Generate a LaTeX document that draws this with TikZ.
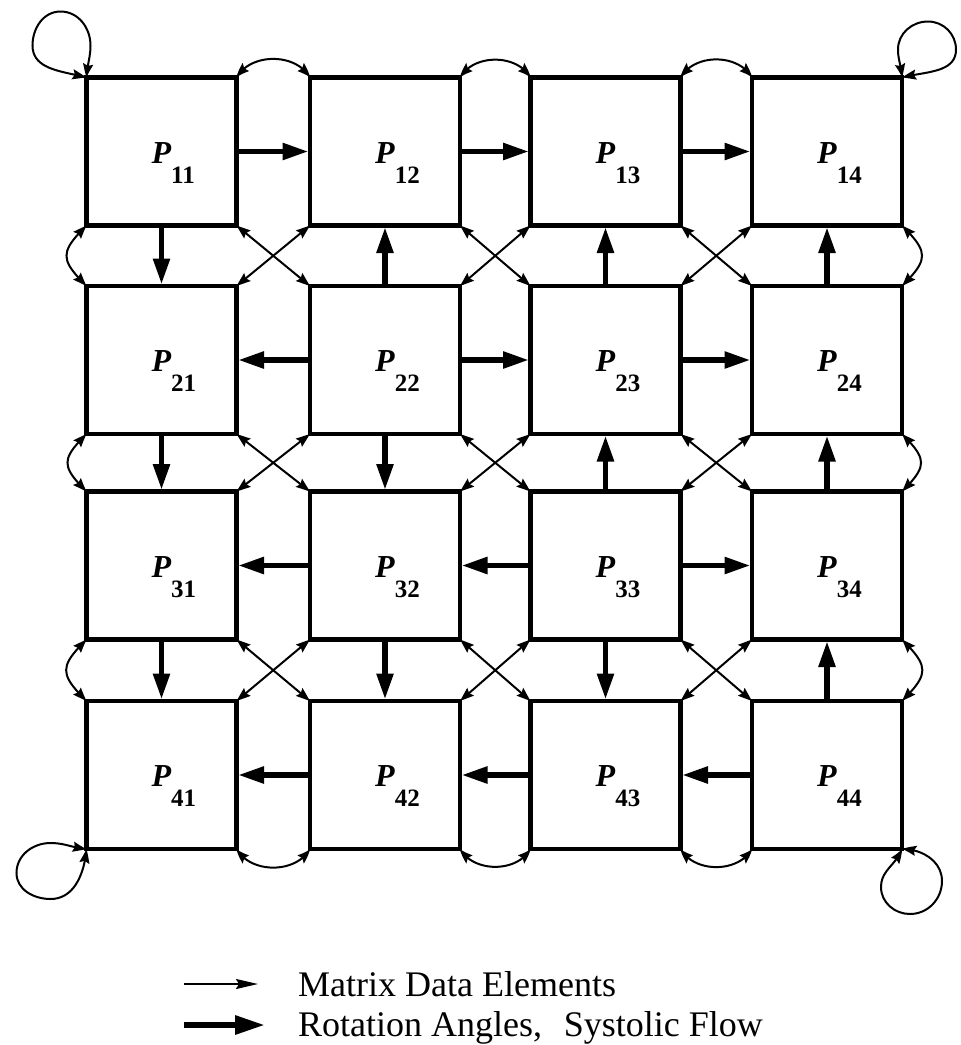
\documentclass[tikz,border=0pt]{standalone}
\usepackage{fontspec}
\setmainfont{Liberation Serif}
\usetikzlibrary{arrows.meta,bending}
\newcommand\plab[1]{{\fontsize{32}{32}\selectfont\bfseries\itshape P}\raisebox{-20pt}{\fontsize{25}{25}\selectfont\bfseries #1}}
\begin{document}
\begin{tikzpicture}[x=1pt,y=1pt,
  box/.style={draw,line width=4.5pt,minimum width=150pt,minimum height=148pt,outer sep=0pt,inner sep=0pt},
  lbl/.style={inner sep=0pt,anchor=base west},
  flow/.style={line width=5.5pt,-{Triangle[length=26pt,width=16pt]},shorten >=1.5pt},
  data/.style={line width=2pt,{Stealth[length=14pt,width=10pt,inset=2pt,bend]}-{Stealth[length=14pt,width=10pt,inset=2pt,bend]}},
  legthin/.style={line width=2pt,-{Stealth[length=22pt,width=10pt,inset=3pt]}},
  legthick/.style={line width=6pt,-{Triangle[length=30pt,width=18pt]}},
  legtext/.style={inner sep=0pt,anchor=base west,font=\fontsize{36}{36}\selectfont}]
\useasboundingbox (0,0) rectangle (961,-1045);
% boxes and labels
\foreach \r/\y in {1/151.5,2/360,3/565.5,4/775}{
  \foreach \c/\x in {1/161.5,2/385,3/605.5,4/827}{
    \node[box] (p\r\c) at (\x,-\y) {};
    \node[lbl] (l\r\c) at (\x-10,-\y-11.5) {\plab{\r\c}};
  }
}
% systolic flow (thick arrows)
\draw[flow] (p11.east) -- (p12.west);
\draw[flow] (p12.east) -- (p13.west);
\draw[flow] (p13.east) -- (p14.west);
\draw[flow] (p11.south) -- (p21.north);
\draw[flow] (p22.north) -- (p12.south);
\draw[flow] (p23.north) -- (p13.south);
\draw[flow] (p24.north) -- (p14.south);
\draw[flow] (p22.west) -- (p21.east);
\draw[flow] (p22.east) -- (p23.west);
\draw[flow] (p23.east) -- (p24.west);
\draw[flow] (p21.south) -- (p31.north);
\draw[flow] (p22.south) -- (p32.north);
\draw[flow] (p33.north) -- (p23.south);
\draw[flow] (p34.north) -- (p24.south);
\draw[flow] (p32.west) -- (p31.east);
\draw[flow] (p33.west) -- (p32.east);
\draw[flow] (p33.east) -- (p34.west);
\draw[flow] (p31.south) -- (p41.north);
\draw[flow] (p32.south) -- (p42.north);
\draw[flow] (p33.south) -- (p43.north);
\draw[flow] (p44.north) -- (p34.south);
\draw[flow] (p42.west) -- (p41.east);
\draw[flow] (p43.west) -- (p42.east);
\draw[flow] (p44.west) -- (p43.east);
% matrix data (thin arrows): crossings
\foreach \r/\rn in {1/2,2/3,3/4}{
  \foreach \c/\cn in {1/2,2/3,3/4}{
    \draw[data] (p\r\c.south east) -- (p\rn\cn.north west);
    \draw[data] (p\r\cn.south west) -- (p\rn\c.north east);
  }
}
% top and bottom curves
\foreach \c/\cn in {1/2,2/3,3/4}{
  \draw[data] (p1\c.north east) to[out=60,in=120] (p1\cn.north west);
  \draw[data] (p4\c.south east) to[out=-60,in=-120] (p4\cn.south west);
}
% left and right curves
\foreach \r/\rn in {1/2,2/3,3/4}{
  \draw[data] (p\r1.south west) to[out=-135,in=135,looseness=1.6] (p\rn1.north west);
  \draw[data] (p\r4.south east) to[out=-45,in=45,looseness=1.6] (p\rn4.north east);
}
% corner loops
\draw[data] (p11.north west) to[out=88,in=-90] ++(4,32) to[out=90,in=0] ++(-30,34)
  to[out=180,in=90] ++(-28,-34) to[out=-90,in=165] (p11.north west);
\draw[data] (p14.north east) to[out=92,in=-90] ++(-4,28) to[out=90,in=180] ++(30,28)
  to[out=0,in=90] ++(28,-28) to[out=-90,in=15] (p14.north east);
\draw[data] (p41.south west) to[out=175,in=0] ++(-36,6) to[out=180,in=90] ++(-34,-30)
  to[out=-90,in=180] ++(34,-26) to[out=0,in=-95] (p41.south west);
\draw[data] (p44.south east) to[out=0,in=90] ++(40,-32) to[out=-90,in=0] ++(-32,-33)
  to[out=180,in=-90] ++(-29,27) to[out=90,in=-110] (p44.south east);
% legend
\coordinate (a1) at (184,-984);
\coordinate (a2) at (258,-984);
\coordinate (b1) at (184,-1025);
\coordinate (b2) at (265,-1025);
\draw[legthin] (a1) -- (a2);
\draw[legthick] (b1) -- (b2);
\node[legtext] (t1) at (298,-996) {Matrix Data Elements};
\node[legtext] (t2) at (298,-1036) {Rotation Angles,\hspace{0.6em}Systolic Flow};
\end{tikzpicture}
\end{document}
